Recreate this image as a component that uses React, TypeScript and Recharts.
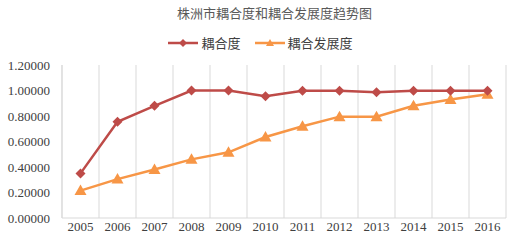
import React from 'react';
import { LineChart, Line, XAxis, YAxis, CartesianGrid } from 'recharts';

const years = ['2005', '2006', '2007', '2008', '2009', '2010', '2011', '2012', '2013', '2014', '2015', '2016'];
const couplingDegree = [0.35, 0.755, 0.88, 1.0, 1.0, 0.955, 0.998, 0.998, 0.987, 0.998, 0.998, 0.998];
const couplingDevelopment = [0.215, 0.305, 0.38, 0.46, 0.515, 0.635, 0.72, 0.795, 0.795, 0.88, 0.93, 0.97];
const yTicks = [0, 0.2, 0.4, 0.6, 0.8, 1.0, 1.2];

const data = years.map((year, i) => ({
    year,
    degree: couplingDegree[i],
    development: couplingDevelopment[i],
}));

const RED = '#BE4B48';
const ORANGE = '#F79646';
const GRID = '#D9D9D9';
const TEXT = '#404040';
const SERIF = 'Liberation Serif';
const CJK = "'Liberation Serif', 'Noto Sans CJK SC', serif";

const Diamond = (props: any) => {
    const { cx, cy } = props;
    if (cx == null || cy == null) return null;
    const r = 5;
    return <path d={`M${cx},${cy - r}L${cx + r},${cy}L${cx},${cy + r}L${cx - r},${cy}Z`} fill={RED} />;
};

const Triangle = (props: any) => {
    const { cx, cy } = props;
    if (cx == null || cy == null) return null;
    const r = 6;
    return <path d={`M${cx},${cy - r}L${cx + r},${cy + r * 0.75}L${cx - r},${cy + r * 0.75}Z`} fill={ORANGE} />;
};

const XTick = (props: any) => {
    const { x, y, payload } = props;
    return (
        <text x={x} y={y + 11} textAnchor="middle" fill={TEXT} fontSize={13} fontFamily={SERIF}>
            {payload.value}
        </text>
    );
};

const YTick = (props: any) => {
    const { x, y, payload } = props;
    return (
        <text x={x} y={y + 4.5} textAnchor="end" fill={TEXT} fontSize={13} fontFamily={SERIF}>
            {Number(payload.value).toFixed(5)}
        </text>
    );
};

const LegendItem = ({ color, label, shape }: { color: string; label: string; shape: 'diamond' | 'triangle' }) => (
    <span style={{ display: 'inline-flex', alignItems: 'center', marginRight: 14 }}>
        <svg width={30} height={10} style={{ marginRight: 3 }}>
            <line x1={0} y1={5} x2={30} y2={5} stroke={color} strokeWidth={2.5} />
            {shape === 'diamond'
                ? <path d="M15,1L19,5L15,9L11,5Z" fill={color} />
                : <path d="M15,1L19,8L11,8Z" fill={color} />}
        </svg>
        <span>{label}</span>
    </span>
);

export default function App() {
    return (
        <div style={{ position: 'absolute', left: 0, top: 0, width: 513, height: 242, background: '#fff', fontFamily: CJK }}>
            <div style={{ position: 'absolute', top: 3, left: 0, width: 513, paddingLeft: 36, boxSizing: 'border-box', textAlign: 'center', fontSize: 13, color: '#595959' }}>
                株洲市耦合度和耦合发展度趋势图
            </div>
            <div style={{ position: 'absolute', top: 33, left: 0, width: 513, paddingLeft: 22, boxSizing: 'border-box', textAlign: 'center', fontSize: 13, color: TEXT }}>
                <LegendItem color={RED} label="耦合度" shape="diamond" />
                <LegendItem color={ORANGE} label="耦合发展度" shape="triangle" />
            </div>
            <LineChart
                width={513}
                height={242}
                data={data}
                margin={{ top: 65, right: 7, left: 8, bottom: 0 }}
            >
                <CartesianGrid
                    horizontal={false}
                    stroke={GRID}
                    strokeWidth={1}
                    verticalCoordinatesGenerator={({ offset }: any) => {
                        const step = offset.width / years.length;
                        return Array.from({ length: years.length + 1 }, (_, i) => offset.left + step * i);
                    }}
                />
                <XAxis
                    dataKey="year"
                    scale="band"
                    height={24}
                    tickLine={false}
                    tickSize={0}
                    tickMargin={2}
                    axisLine={{ stroke: GRID }}
                    tick={<XTick />}
                    interval={0}
                />
                <YAxis
                    width={54}
                    domain={[0, 1.2]}
                    ticks={yTicks}
                    tickLine={false}
                    tickSize={0}
                    tickMargin={12}
                    axisLine={{ stroke: GRID }}
                    tick={<YTick />}
                />
                <Line
                    type="linear"
                    dataKey="development"
                    stroke={ORANGE}
                    strokeWidth={2.5}
                    dot={<Triangle />}
                    activeDot={false}
                    isAnimationActive={false}
                />
                <Line
                    type="linear"
                    dataKey="degree"
                    stroke={RED}
                    strokeWidth={2.5}
                    dot={<Diamond />}
                    activeDot={false}
                    isAnimationActive={false}
                />
            </LineChart>
        </div>
    );
}
